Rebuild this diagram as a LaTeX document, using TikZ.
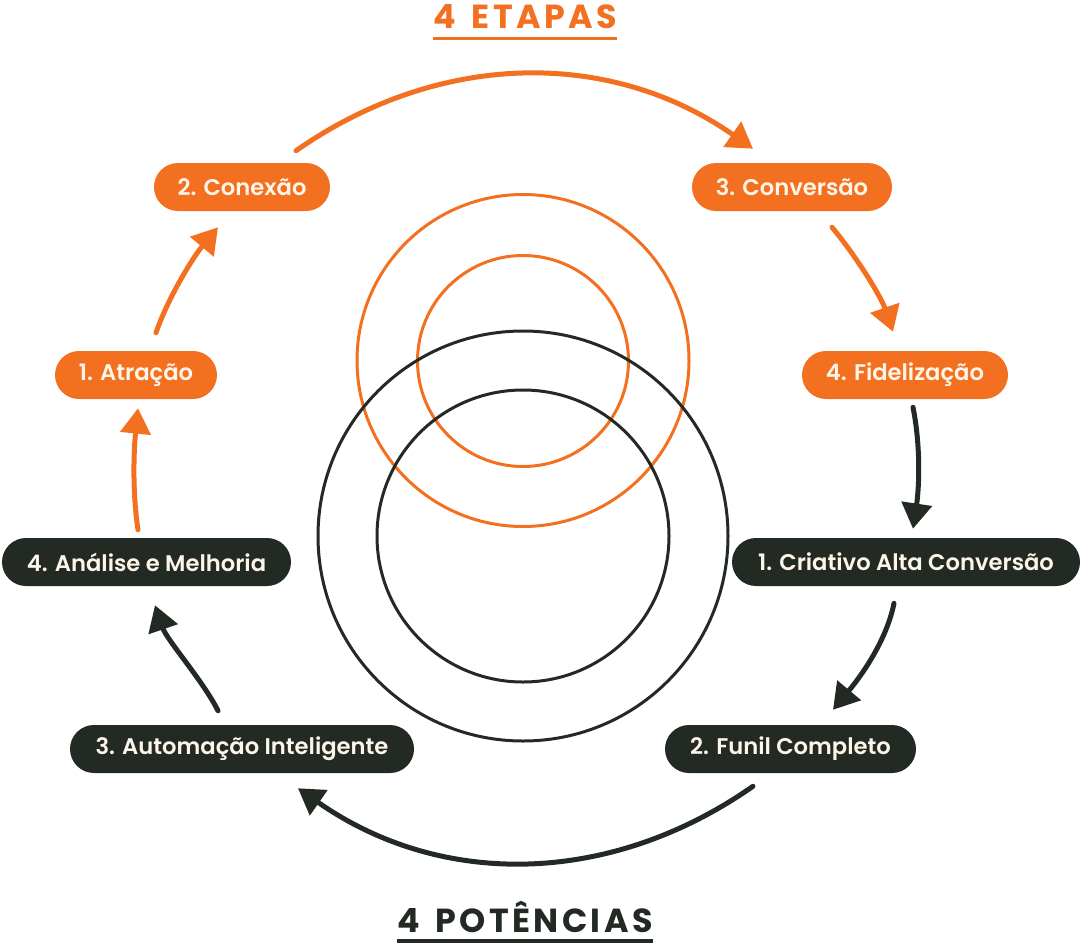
\documentclass[tikz,border=0pt]{standalone}
\usepackage{fontspec}
\setmainfont{Poppins}[BoldFont={Poppins SemiBold}]
\newfontfamily\titlefont{Poppins}[LetterSpace=10]
\usetikzlibrary{arrows.meta,calc}
\definecolor{orng}{RGB}{243,112,33}
\definecolor{darkg}{RGB}{35,42,36}
\definecolor{cream}{RGB}{252,245,232}
\begin{document}
\begin{tikzpicture}[x=0.75pt,y=-0.75pt,
  box/.style={rounded corners=18pt, minimum height=36pt, inner sep=0pt,
    font=\fontsize{17}{20}\selectfont\bfseries, text=cream},
  obox/.style={box, fill=orng},
  dbox/.style={box, fill=darkg},
  oarr/.style={draw=orng, line width=3.75pt, line cap=round,
    -{Triangle[length=19pt,width=22.5pt]}},
  darr/.style={oarr, draw=darkg},
  oring/.style={draw=orng, line width=2.25pt},
  dring/.style={draw=darkg, line width=2.25pt},
  ttl/.style={inner sep=0pt, anchor=base,
    font=\titlefont\fontsize{25}{25}\selectfont\bfseries},
  uline/.style={line width=2.4pt}]
\useasboundingbox (0,0) rectangle (1082,943);

% rings
\draw[oring] (523,360.5) circle[radius=166*0.75pt];
\draw[oring] (523,361) circle[radius=105.5*0.75pt];
\draw[dring] (523,536) circle[radius=205*0.75pt];
\draw[dring] (523,536) circle[radius=146*0.75pt];

% stages (etapas)
\node[obox, minimum width=132pt]    (c2) at (242,187)   {2. Conexão};
\node[obox, minimum width=150pt]    (c3) at (792,187)   {3. Conversão};
\node[obox, minimum width=121.5pt]  (c1) at (136,375)   {1. Atração};
\node[obox, minimum width=154.5pt]  (c4) at (905,375)   {4. Fidelização};

% powers (potencias)
\node[dbox, minimum width=216.75pt] (p4) at (146.5,562) {4. Análise e Melhoria};
\node[dbox, minimum width=261pt]    (p1) at (906,562)   {1. Criativo Alta Conversão};
\node[dbox, minimum width=258pt]    (p3) at (242,749)   {3. Automação Inteligente};
\node[dbox, minimum width=188.25pt] (p2) at (790.5,749) {2. Funil Completo};

% titles
\node[ttl, text=orng]  (t1) at (525,28)  {4\ \hspace{4pt}ETAPAS};
\node[ttl, text=darkg] (t2) at (525,932) {4\ \hspace{4pt}POTÊNCIAS};
\draw[uline, draw=orng]  ([shift={(0,10.5)}]t1.base west) -- ([shift={(0,10.5)}]t1.base east);
\draw[uline, draw=darkg] ([shift={(0,9)}]t2.base west) -- ([shift={(0,9)}]t2.base east);

% connectors
\draw[oarr] ([shift={(54,-12)}]c2.north) .. controls +(143,-100) and +(-143,-100) .. ([shift={(-39,-14)}]c3.north);
\draw[oarr] ([shift={(40,16)}]c3.south) .. controls +(25,30) and +(-12,-35) .. ([shift={(-12,-19)}]c4.north);
\draw[darr] ([shift={(8,8)}]c4.south) .. controls +(8,40) and +(6,-40) .. ([shift={(7,-9)}]p1.north);
\draw[darr] ([shift={(-12,17)}]p1.south) .. controls +(-8,40) and +(25,-30) .. ([shift={(42.5,-15)}]p2.north);
\draw[darr] ([shift={(-37.5,13)}]p2.south) .. controls +(-143,100) and +(143,100) .. ([shift={(56,15)}]p3.south);
\draw[darr] ([shift={(-24,-14)}]p3.north) .. controls +(-15,-30) and +(12,35) .. ([shift={(8.5,19)}]p4.south);
\draw[oarr] ([shift={(-8.5,-8)}]p4.north) .. controls +(-6,-40) and +(-4,40) .. ([shift={(2,9)}]c1.south);
\draw[oarr] ([shift={(20,-18)}]c1.north) .. controls +(12,-35) and +(-25,30) .. ([shift={(-24,16)}]c2.south);
\end{tikzpicture}
\end{document}
